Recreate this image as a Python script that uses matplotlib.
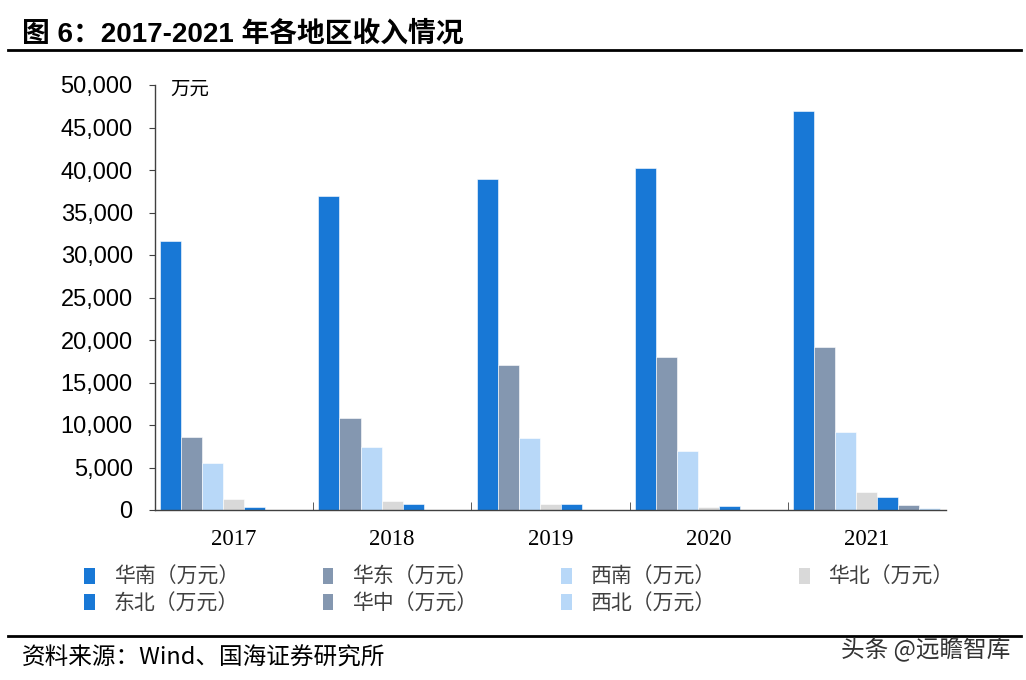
import numpy as np
import matplotlib.pyplot as plt
from matplotlib.patches import Patch
from matplotlib.lines import Line2D

plt.rcParams['font.family'] = ['Liberation Sans', 'Noto Sans CJK SC', 'DejaVu Sans']

# data (万元)
years = ['2017', '2018', '2019', '2020', '2021']
regions = ['华南', '华东', '西南', '华北', '东北', '华中', '西北']
huanan = [31600, 37000, 38900, 40200, 46900]
huadong = [8550, 10800, 17050, 18050, 19150]
xinan = [5570, 7450, 8430, 6900, 9200]
huabei = [1250, 1060, 670, 390, 2150]
dongbei = [400, 700, 700, 470, 1530]
huazhong = [0, 0, 0, 0, 550]
xibei = [0, 0, 0, 0, 270]
series = [huanan, huadong, xinan, huabei, dongbei, huazhong, xibei]
colors = ['#1878D6', '#8497B0', '#B8D8F8', '#D9D9D9', '#1878D6', '#8497B0', '#B8D8F8']

fig = plt.figure(figsize=(10.26, 6.8), dpi=100)
ax = fig.add_axes([0.151, 0.25, 0.771, 0.625])

x = np.arange(len(years))
w = 0.133
handles = []
for i, (vals, c) in enumerate(zip(series, colors)):
    ax.bar(x - 0.4 + i * w, vals, width=w, color=c, edgecolor='white', linewidth=0.4)
    handles.append(Patch(facecolor=c, edgecolor='none', label=regions[i] + '（万元）'))

ax.set_xlim(-0.5, 4.5)
ax.set_ylim(0, 50000)
ax.set_yticks(np.arange(0, 50001, 5000))
ax.set_yticklabels([f'{v:,}' for v in range(0, 50001, 5000)], fontsize=17,
                   family='Liberation Sans')
ax.set_xticks(x)
ax.set_xticklabels(years, fontsize=16.5, family='Liberation Serif')
ax.set_xticks(np.arange(0.5, 4.5, 1), minor=True)
ax.tick_params(axis='x', which='major', length=0, pad=14)
ax.tick_params(axis='x', which='minor', direction='in', length=6, color='#404040')
ax.tick_params(axis='y', direction='out', length=4, color='#404040', pad=12)
for s in ['top', 'right']:
    ax.spines[s].set_visible(False)
for s in ['left', 'bottom']:
    ax.spines[s].set_color('#404040')
    ax.spines[s].set_linewidth(1.0)

ax.text(0.02, 0.99, '万元', transform=ax.transAxes, fontsize=14, va='center',
        family='Noto Sans CJK SC')

# legend in row-major order (matplotlib fills columns first)
order = [0, 4, 1, 5, 2, 6, 3]
leg = fig.legend([handles[i] for i in order], [handles[i].get_label() for i in order],
                 ncol=4, loc='upper left', frameon=False,
                 prop={'family': 'Noto Sans CJK SC', 'size': 15},
                 handlelength=0.52, handleheight=0.75, handletextpad=0.9,
                 columnspacing=4.0, labelspacing=0.2, labelcolor='#404040')
leg.set_bbox_to_anchor((0.064, 0.195), transform=fig.transFigure)

# title, rules and source
fig.text(0.021, 0.949, '图 6：2017-2021 年各地区收入情况', fontsize=20, fontweight='bold',
         va='center', ha='left')
fig.add_artist(Line2D([0.008, 0.995], [0.926, 0.926], color='black', linewidth=2))
fig.add_artist(Line2D([0.008, 0.995], [0.065, 0.065], color='black', linewidth=2))
fig.text(0.021, 0.032, '资料来源：Wind、国海证券研究所', fontsize=17, va='center',
         ha='left', family=['Noto Sans CJK SC'])
fig.text(0.985, 0.046, '头条 @远瞻智库', fontsize=17, va='center', ha='right',
         color='#333333', family=['Noto Sans CJK SC'])

fig.savefig('out.png', dpi=100)
